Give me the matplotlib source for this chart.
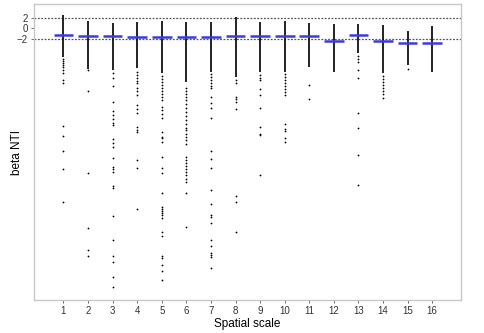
import matplotlib.pyplot as plt

plt.rcParams['font.family'] = ['Liberation Sans', 'DejaVu Sans']

scales = list(range(1, 17))

# top and bottom of the dense band of pairwise values at each scale
band_top = [2.5, 1.38, 1.0, 1.2, 1.38, 1.25, 1.13, 2.1, 1.2, 1.38, 1.0, 0.76, 0.82, 0.63, -0.5, 0.44]
band_bottom = [-5.3, -7.6, -7.8, -7.5, -8.4, -10.0, -8.1, -9.1, -8.1, -8.1, -7.2, -8.1, -4.7, -8.4, -6.9, -8.2]

# medians
medians = [-1.30, -1.38, -1.49, -1.62, -1.62, -1.56, -1.56, -1.43,
           -1.43, -1.43, -1.43, -2.37, -1.30, -2.31, -2.75, -2.69]

# scattered values below the band
outliers = {
    1: [-5.75, -6.12, -6.5, -6.87, -7.25, -7.81, -8.38, -9.69, -10.25,
        -18.3, -20.2, -23.0, -26.4, -32.6],
    2: [-7.8, -11.75, -27.1, -37.5, -41.6, -42.7],
    3: [-8.4, -9.4, -10.9, -13.8, -15.5, -16.3, -17.0, -17.8, -18.1, -20.8,
        -21.5, -22.3, -24.3, -26.0, -26.4, -26.9, -29.6, -29.9, -35.2, -39.7,
        -42.7, -43.8, -46.6, -48.5],
    4: [-8.2, -8.75, -9.3, -9.9, -10.3, -11.2, -11.8, -12.5, -14.4, -15.1,
        -15.9, -18.5, -19.1, -19.4, -24.7, -26.2, -33.9],
    5: [-9.0, -9.5, -10.1, -10.6, -11.2, -11.7, -12.3, -12.9, -13.4, -14.8,
        -15.3, -16.1, -16.8, -19.4, -20.4, -20.6, -21.3, -24.1, -26.2, -27.1,
        -30.9, -33.5, -33.9, -34.3, -34.6, -35.0, -35.6, -38.2, -38.9, -42.7,
        -43.1, -44.4, -45.5, -47.2],
    6: [-11.2, -11.7, -12.3, -12.9, -13.4, -14.2, -14.9, -15.7, -16.4, -17.2,
        -17.9, -18.7, -19.1, -19.8, -20.4, -21.0, -21.7, -24.1, -24.7, -25.3,
        -25.8, -26.4, -26.9, -27.5, -28.3, -28.8, -30.9, -37.3],
    7: [-8.6, -9.1, -9.7, -10.3, -10.8, -11.2, -12.8, -14.0, -14.9, -16.8,
        -23.0, -24.5, -26.2, -30.3, -32.9, -35.0, -35.4, -36.5, -39.7, -40.8,
        -42.1, -42.5, -42.9, -44.9],
    8: [-9.6, -10.3, -12.9, -13.3, -13.8, -15.2, -31.5, -32.6, -38.2],
    9: [-8.75, -9.3, -9.7, -11.4, -12.5, -15.0, -18.5, -19.8, -20.0, -27.5],
    10: [-8.6, -9.1, -9.7, -10.3, -10.8, -11.4, -11.9, -12.5, -17.9, -18.9,
         -19.3, -20.6, -21.3],
    11: [-10.6, -13.3],
    12: [],
    13: [-5.2, -5.75, -6.3, -7.9, -9.4, -15.8, -18.6, -23.8, -29.4],
    14: [-8.9, -9.5, -10.1, -10.6, -11.2, -11.7, -12.3, -13.1],
    15: [-7.7],
    16: [],
}

fig = plt.figure(figsize=(4.84, 3.33), dpi=100)
ax = fig.add_axes([0.0702, 0.099, 0.8823, 0.889])

ax.axhline(2, color='#555555', linestyle=(0, (1.5, 1.2)), linewidth=0.9, zorder=1)
ax.axhline(-2, color='#555555', linestyle=(0, (1.5, 1.2)), linewidth=0.9, zorder=1)

ax.vlines(scales, band_bottom, band_top, color='#111111', linewidth=1.3, zorder=2)
for s in scales:
    ys = outliers[s]
    ax.plot([s] * len(ys), ys, 'o', color='black', markersize=1.3,
            markeredgewidth=0, zorder=2)

ax.hlines(medians, [s - 0.4 for s in scales], [s + 0.4 for s in scales],
          color='#3b3be0', linewidth=1.8, zorder=3)

ax.set_xlim(-0.2, 17.17)
ax.set_ylim(-50.96, 4.57)
ax.set_xticks(scales)
ax.set_xticklabels([str(s) for s in scales])
ax.set_yticks([2, 0, -2])
ax.set_yticklabels(['2', '0', '\u22122'])
ax.tick_params(labelsize=7, colors='#555555', length=2.5, width=0.6, pad=2)
ax.tick_params(axis='both', labelcolor='#333333')

for side in ['left', 'bottom', 'right', 'top']:
    ax.spines[side].set_color('#c8c8c8')
    ax.spines[side].set_linewidth(1.0)

ax.set_xlabel('Spatial scale', fontsize=8.5, labelpad=1)
ax.set_ylabel('beta NTI', fontsize=8.5)
ax.yaxis.set_label_coords(-0.026, 0.5)

fig.savefig('out.png', dpi=100)
